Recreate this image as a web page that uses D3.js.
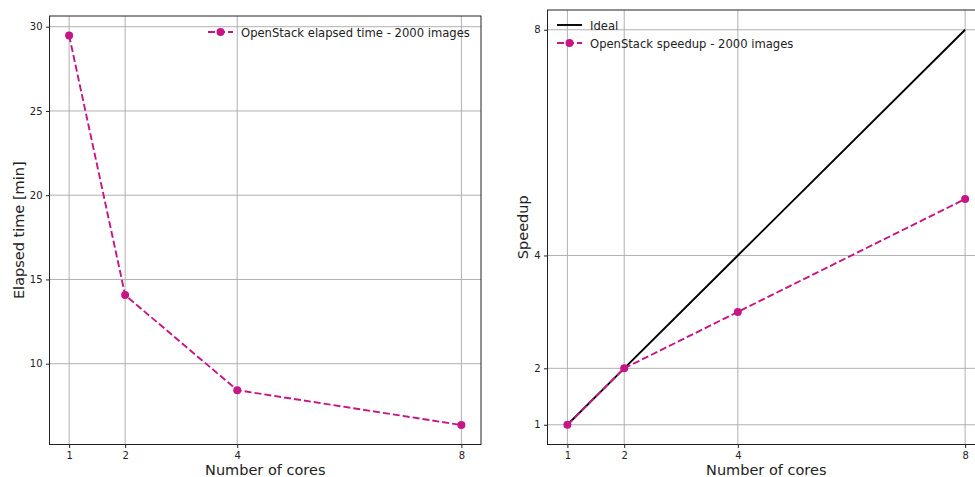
<!DOCTYPE html>
<html>
<head>
<meta charset="utf-8">
<script src="https://cdn.jsdelivr.net/npm/d3@7"></script>
<style>
  body { margin: 0; background: #fff; }
  svg { font-family: "DejaVu Sans", sans-serif; }
</style>
</head>
<body>
<div id="chart"></div>
<script>
// data
const cores = [1, 2, 4, 8];
const elapsedMin = [29.48, 14.07, 8.43, 6.36];
const speedup = [1, 2, 3.0, 5.0];
const ideal = [1, 2, 4, 8];
const coreTicks = [1, 2, 4, 8];
const elapsedTicks = [10, 15, 20, 25, 30];
const speedupTicks = [1, 2, 4, 8];

const width = 975;
const height = 477;
const pink = "#c71585";
const gridColor = "#b0b0b0";
const dash = "7,3";

const svg = d3.select("#chart").append("svg")
  .attr("width", width)
  .attr("height", height);

// matplotlib style 5% padding
function padded(vals) {
  const [lo, hi] = d3.extent(vals);
  const m = (hi - lo) * 0.05;
  return [lo - m, hi + m];
}

function drawPanel(box, yDomain, yTicks, yLabel, labelOffset, series, legendPos) {
  const x = d3.scaleLinear().domain(padded(cores)).range([box.left, box.right]);
  const y = d3.scaleLinear().domain(yDomain).range([box.bottom, box.top]);

  const clipId = "clip" + Math.round(box.left);
  svg.append("clipPath").attr("id", clipId)
    .append("rect")
    .attr("x", box.left).attr("y", box.top)
    .attr("width", box.right - box.left).attr("height", box.bottom - box.top);

  // grid
  const grid = svg.append("g").attr("clip-path", `url(#${clipId})`);
  grid.selectAll(".vg").data(coreTicks).enter().append("line")
    .attr("x1", d => x(d)).attr("x2", d => x(d))
    .attr("y1", box.top).attr("y2", box.bottom)
    .attr("stroke", gridColor).attr("stroke-width", 1);
  grid.selectAll(".hg").data(yTicks).enter().append("line")
    .attr("y1", d => y(d)).attr("y2", d => y(d))
    .attr("x1", box.left).attr("x2", box.right)
    .attr("stroke", gridColor).attr("stroke-width", 1);

  // axes
  const xAxis = svg.append("g")
    .attr("transform", `translate(0,${box.bottom})`)
    .call(d3.axisBottom(x).tickValues(coreTicks).tickSize(3.5).tickPadding(3.5).tickFormat(d3.format("d")));
  const yAxis = svg.append("g")
    .attr("transform", `translate(${box.left},0)`)
    .call(d3.axisLeft(y).tickValues(yTicks).tickSize(3.5).tickPadding(3.5).tickFormat(d3.format("d")));
  [xAxis, yAxis].forEach(a => {
    a.select(".domain").remove();
    a.selectAll("text").style("font-size", "10px").style("font-family", "DejaVu Sans").attr("fill", "#222");
    a.selectAll("line").attr("stroke", "#222").attr("stroke-width", 1);
  });

  // lines
  const plot = svg.append("g").attr("clip-path", `url(#${clipId})`);
  series.forEach(s => {
    const line = d3.line().x((d, i) => x(cores[i])).y(d => y(d));
    plot.append("path")
      .datum(s.values)
      .attr("d", line)
      .attr("fill", "none")
      .attr("stroke", s.color)
      .attr("stroke-width", 1.9)
      .attr("stroke-dasharray", s.dashed ? dash : null);
    if (s.markers) {
      plot.selectAll(null).data(s.values).enter().append("circle")
        .attr("cx", (d, i) => x(cores[i]))
        .attr("cy", d => y(d))
        .attr("r", 4)
        .attr("fill", s.color);
    }
  });

  // frame
  svg.append("rect")
    .attr("x", box.left).attr("y", box.top)
    .attr("width", box.right - box.left).attr("height", box.bottom - box.top)
    .attr("fill", "none").attr("stroke", "#222").attr("stroke-width", 1);

  // axis labels
  svg.append("text")
    .attr("x", (box.left + box.right) / 2)
    .attr("y", 475)
    .attr("text-anchor", "middle")
    .style("font-size", "14.5px")
    .attr("fill", "#222")
    .text("Number of cores");
  svg.append("text")
    .attr("transform", `translate(${box.left - labelOffset},${(box.top + box.bottom) / 2}) rotate(-90)`)
    .attr("text-anchor", "middle")
    .style("font-size", "14.5px")
    .attr("fill", "#222")
    .text(yLabel);

  // legend
  const legend = svg.append("g").attr("transform", `translate(${legendPos[0]},${legendPos[1]})`);
  legend.selectAll("g").data(series).enter().append("g")
    .attr("transform", (d, i) => `translate(0,${i * 18})`)
    .each(function(s) {
      const g = d3.select(this);
      g.append("line")
        .attr("x1", 0).attr("x2", 25).attr("y1", 0).attr("y2", 0)
        .attr("stroke", s.color).attr("stroke-width", 1.9)
        .attr("stroke-dasharray", s.dashed ? dash : null);
      if (s.markers) {
        g.append("circle").attr("cx", 12.5).attr("cy", 0).attr("r", 4).attr("fill", s.color);
      }
      g.append("text")
        .attr("x", 33).attr("y", 4.5)
        .style("font-size", "11.6px")
        .attr("fill", "#222")
        .text(s.name);
    });
}

drawPanel(
  { left: 49.5, right: 481, top: 16, bottom: 444.5 },
  padded(elapsedMin), elapsedTicks, "Elapsed time [min]", 26,
  [{ name: "OpenStack elapsed time - 2000 images", values: elapsedMin, color: pink, dashed: true, markers: true }],
  [208, 32]
);

drawPanel(
  { left: 547.5, right: 985, top: 10, bottom: 444.5 },
  padded(ideal), speedupTicks, "Speedup", 20,
  [
    { name: "Ideal", values: ideal, color: "#000", dashed: false, markers: false },
    { name: "OpenStack speedup - 2000 images", values: speedup, color: pink, dashed: true, markers: true }
  ],
  [557, 25]
);
</script>
</body>
</html>
